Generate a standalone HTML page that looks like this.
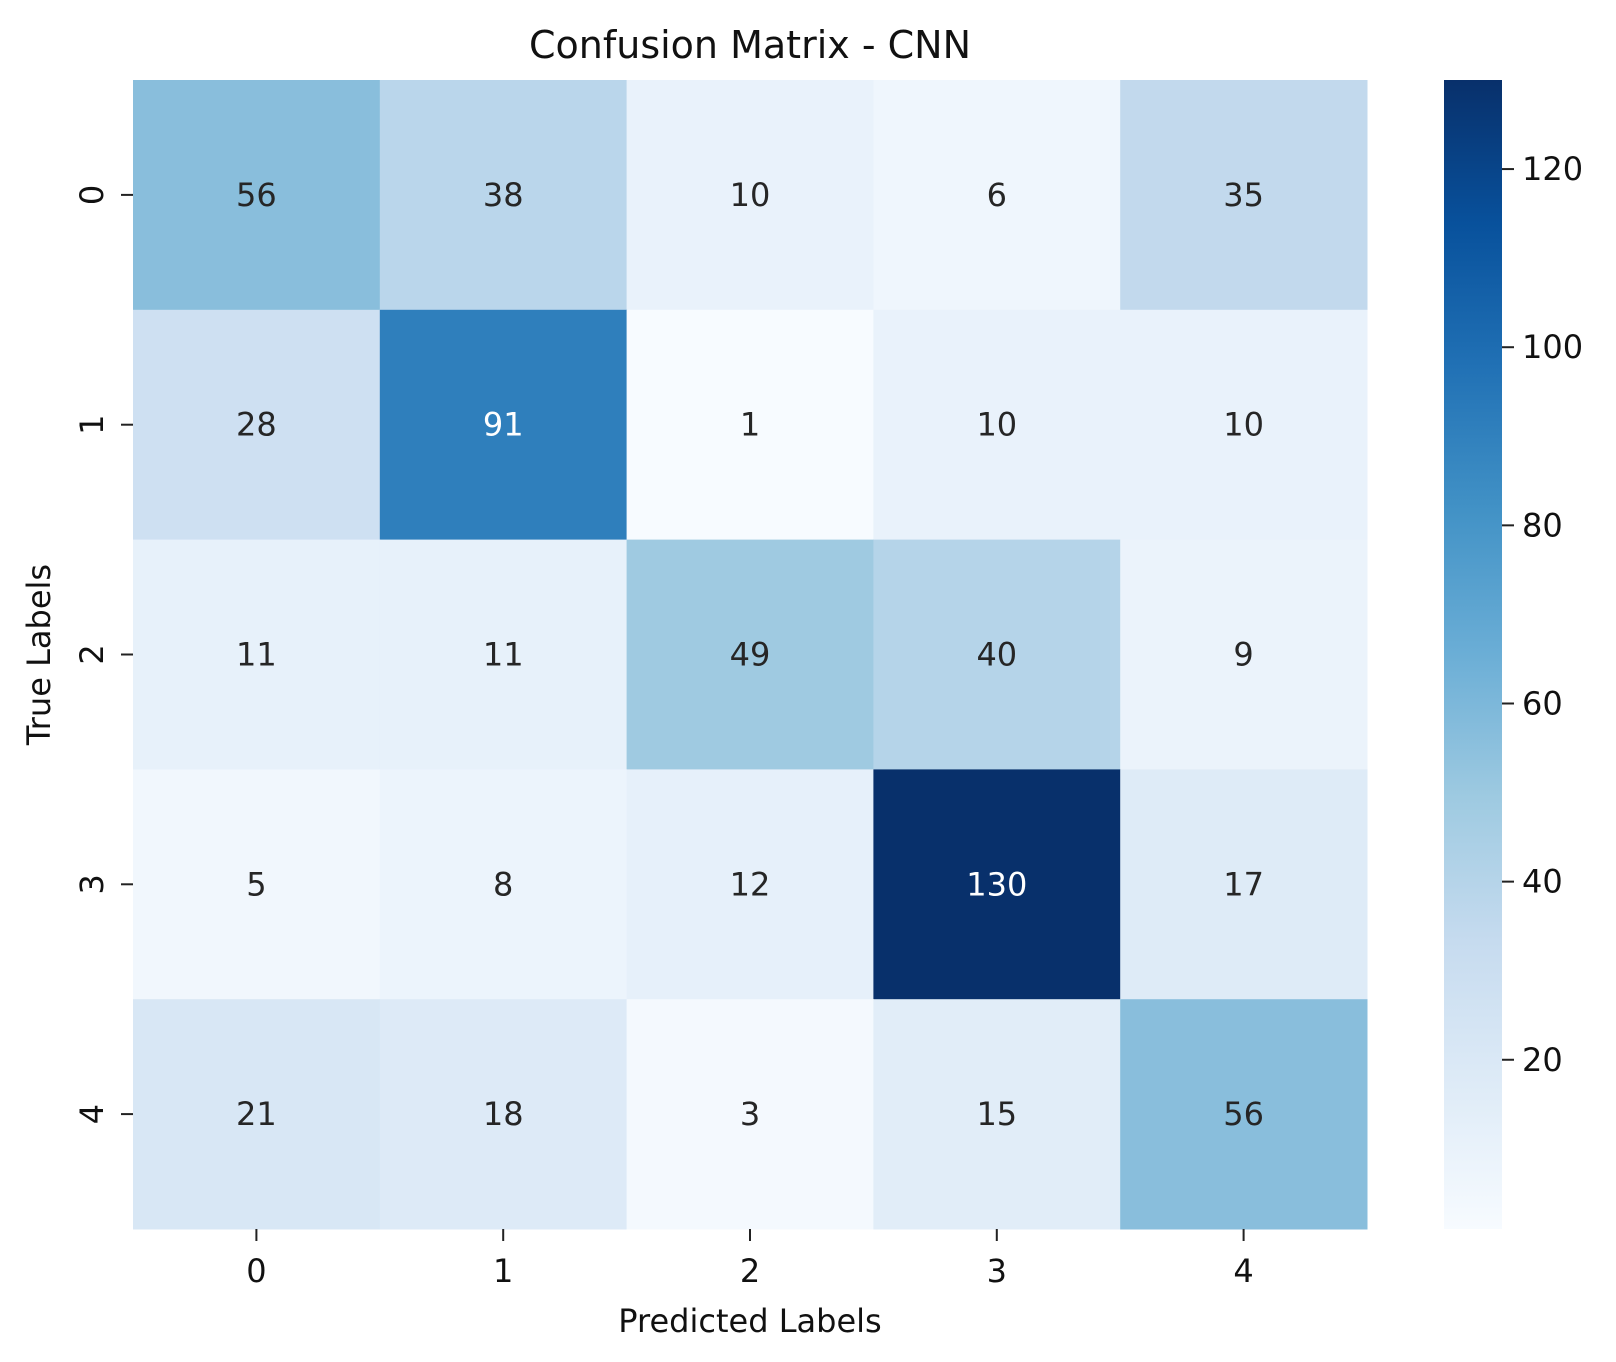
<!DOCTYPE html>
<html><head><meta charset="utf-8"><style>
body{margin:0;background:#fff;}
svg{display:block;font-family:"DejaVu Sans","Liberation Sans",sans-serif;}
</style></head><body>
<svg id="chart" width="1616" height="1362"></svg>
<script>
const labels = ["0","1","2","3","4"];
const row0 = [56,38,10,6,35];
const row1 = [28,91,1,10,10];
const row2 = [11,11,49,40,9];
const row3 = [5,8,12,130,17];
const row4 = [21,18,3,15,56];
const matrix = [row0,row1,row2,row3,row4];
const cbTicks = [20,40,60,80,100,120];
const vmin = 1, vmax = 130;

const NS="http://www.w3.org/2000/svg";
const svg=document.getElementById('chart');
const L=133,R=1367,T=80,B=1229;
const CBL=1444,CBR=1502;
const cw=(R-L)/labels.length, ch=(B-T)/labels.length;
const xC=i=>L+cw*(i+0.5), yC=i=>T+ch*(i+0.5);
const cbY=v=>B-(v-vmin)/(vmax-vmin)*(B-T);
const stops=["#f7fbff","#deebf7","#c6dbef","#9ecae1","#6baed6","#4292c6","#2171b5","#08519c","#08306b"];
function hex(h){return [1,3,5].map(i=>parseInt(h.substr(i,2),16));}
function cmap(t){t=Math.max(0,Math.min(1,t));const p=t*8,i=Math.min(7,Math.floor(p)),f=p-i;
 const a=hex(stops[i]),b=hex(stops[i+1]);return a.map((c,k)=>Math.round(c+(b[k]-c)*f));}
function el(tag,attrs,parent){const e=document.createElementNS(NS,tag);for(const k in attrs)e.setAttribute(k,attrs[k]);(parent||svg).appendChild(e);return e;}
function txt(s,attrs,parent){const e=el('text',attrs,parent);e.textContent=s;return e;}

const title=txt("Confusion Matrix - CNN",{x:(L+R)/2,y:58,"font-size":38,"text-anchor":"middle",fill:"#111"});



const g=el('g',{});


matrix.forEach((row,r)=>row.forEach((v,c)=>{
  const t=(v-vmin)/(vmax-vmin);const col=cmap(t);
  const rect=el('rect',{x:L+c*cw,y:T+r*ch,width:cw+0.5,height:ch+0.5,fill:`rgb(${col.join(',')})`},g);
  
  
  const lum=(0.299*col[0]+0.587*col[1]+0.114*col[2])/255;
  const tx=txt(String(v),{x:xC(c),y:yC(r)+11,"font-size":32,"text-anchor":"middle",fill:lum<0.5?"#fff":"#262626"},g);
  
  
}));

labels.forEach((lb,i)=>{
  el('line',{x1:xC(i),x2:xC(i),y1:B,y2:B+12,stroke:"#222","stroke-width":2});
  const xt=txt(lb,{x:xC(i),y:B+53,"font-size":32,"text-anchor":"middle",fill:"#111"});
  
  
  el('line',{x1:L-12,x2:L,y1:yC(i),y2:yC(i),stroke:"#222","stroke-width":2});
  const yt=txt(lb,{x:0,y:0,"font-size":32,"text-anchor":"middle",fill:"#111",transform:`translate(103,${yC(i)}) rotate(-90)`});
  
  
});
const xl=txt("Predicted Labels",{x:(L+R)/2,y:1332,"font-size":32,"text-anchor":"middle",fill:"#111"});


const yl=txt("True Labels",{x:0,y:0,"font-size":32,"text-anchor":"middle",fill:"#111",transform:`translate(50,${(T+B)/2}) rotate(-90)`});



const defs=el('defs',{});
const grad=el('linearGradient',{id:"cbg",x1:0,y1:1,x2:0,y2:0},defs);
stops.forEach((s,i)=>el('stop',{offset:i/8,"stop-color":s},grad));
const cb=el('rect',{x:CBL,y:T,width:CBR-CBL,height:B-T,fill:"url(#cbg)"});


cbTicks.forEach(v=>{
  el('line',{x1:CBR,x2:CBR+12,y1:cbY(v),y2:cbY(v),stroke:"#222","stroke-width":2});
  const t=txt(String(v),{x:CBR+20,y:cbY(v)+11,"font-size":32,fill:"#111"});
  
  
});
</script>
</body></html>
